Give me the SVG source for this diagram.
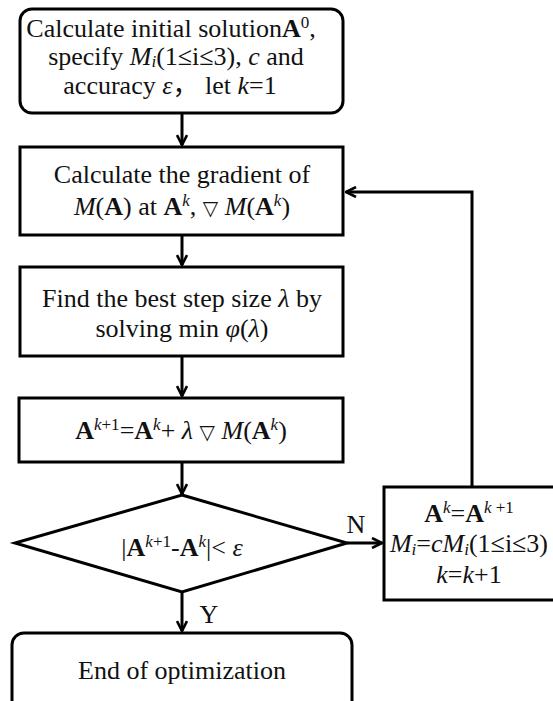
<svg xmlns="http://www.w3.org/2000/svg" width="553" height="701" viewBox="0 0 553 701">
<style>
.box{fill:#fff;stroke:#000;stroke-width:3}
.t{font-family:"Liberation Serif","Times New Roman","Noto Sans CJK SC",serif;font-size:26px;fill:#111;text-anchor:middle}
.b{font-weight:bold}
.i{font-style:italic}
.s{font-size:17px}
.sym{font-family:"DejaVu Sans",sans-serif;font-size:20px}
.con{fill:none;stroke:#000;stroke-width:3}
</style>
<defs>
<marker id="arr" viewBox="0 0 12 12" refX="11" refY="6" markerWidth="12" markerHeight="12" markerUnits="userSpaceOnUse" orient="auto">
<path d="M1,1 L11,6 L1,11" fill="none" stroke="#000" stroke-width="2.6"/>
</marker>
</defs>
<rect width="553" height="701" fill="#fff"/>
<g id="connectors">
<line class="con" x1="182" y1="113" x2="182" y2="145" marker-end="url(#arr)"/>
<line class="con" x1="182" y1="235" x2="182" y2="265" marker-end="url(#arr)"/>
<line class="con" x1="182" y1="356" x2="182" y2="396" marker-end="url(#arr)"/>
<line class="con" x1="182" y1="462" x2="182" y2="494" marker-end="url(#arr)"/>
<line class="con" x1="182" y1="592" x2="182" y2="631" marker-end="url(#arr)"/>
<line class="con" x1="347" y1="543" x2="382" y2="543" marker-end="url(#arr)"/>
<polyline class="con" points="472,487 472,192 346,192" marker-end="url(#arr)"/>
<text class="t" x="356" y="533">N</text>
<text class="t" x="209" y="623">Y</text>
</g>
<g id="start">
<rect class="box" x="20" y="9" width="323" height="104" rx="12"/>
<text class="t" x="171" y="37">Calculate initial solution<tspan class="b">A</tspan><tspan class="s" dy="-9">0</tspan><tspan dy="9">,</tspan></text>
<text class="t" x="176" y="65">specify <tspan class="i">M</tspan><tspan class="s i" dy="2">i</tspan><tspan dy="-2">(1≤i≤3), </tspan><tspan class="i">c</tspan> and</text>
<text class="t" x="170" y="94">accuracy <tspan class="i">ε</tspan>，  let <tspan class="i">k</tspan>=1</text>
</g>
<g id="gradient">
<rect class="box" x="20" y="147" width="323" height="88"/>
<text class="t" x="182" y="183">Calculate the gradient of</text>
<text class="t" x="182" y="215"><tspan class="i">M</tspan>(<tspan class="b">A</tspan>) at <tspan class="b">A</tspan><tspan class="s i" dy="-9">k</tspan><tspan dy="9">, </tspan><tspan class="sym">▽</tspan> <tspan class="i">M</tspan>(<tspan class="b">A</tspan><tspan class="s i" dy="-9">k</tspan><tspan dy="9">)</tspan></text>
</g>
<g id="step">
<rect class="box" x="20" y="267" width="323" height="89"/>
<text class="t" x="182" y="307">Find the best step size <tspan class="i">λ</tspan> by</text>
<text class="t" x="182" y="337">solving min <tspan class="i">φ</tspan>(<tspan class="i">λ</tspan>)</text>
</g>
<g id="update">
<rect class="box" x="19" y="398" width="324" height="64"/>
<text class="t" x="181" y="439"><tspan class="b">A</tspan><tspan class="s i" dy="-9">k</tspan><tspan class="s">+1</tspan><tspan dy="9">=</tspan><tspan class="b">A</tspan><tspan class="s i" dy="-9">k</tspan><tspan dy="9">+ </tspan><tspan class="i">λ</tspan> <tspan class="sym">▽</tspan> <tspan class="i">M</tspan>(<tspan class="b">A</tspan><tspan class="s i" dy="-9">k</tspan><tspan dy="9">)</tspan></text>
</g>
<g id="check">
<polygon class="box" points="182,495 347,543 182,592 15,543"/>
<text class="t" x="182" y="556">|<tspan class="b">A</tspan><tspan class="s i" dy="-9">k</tspan><tspan class="s">+1</tspan><tspan dy="9">-</tspan><tspan class="b">A</tspan><tspan class="s i" dy="-9">k</tspan><tspan dy="9">|&lt; </tspan><tspan class="i">ε</tspan></text>
</g>
<g id="reset">
<rect class="box" x="384" y="487" width="174" height="113"/>
<text class="t" x="469" y="522"><tspan class="b">A</tspan><tspan class="s i" dy="-9">k</tspan><tspan dy="9">=</tspan><tspan class="b">A</tspan><tspan class="s" dy="-9"><tspan class="i">k</tspan> +1</tspan></text>
<text class="t" x="469" y="552"><tspan class="i">M</tspan><tspan class="s i" dy="3">i</tspan><tspan dy="-3">=</tspan><tspan class="i">cM</tspan><tspan class="s i" dy="3">i</tspan><tspan dy="-3">(1≤i≤3)</tspan></text>
<text class="t" x="469" y="583"><tspan class="i">k</tspan>=<tspan class="i">k</tspan>+1</text>
</g>
<g id="end">
<rect class="box" x="12" y="633" width="340" height="80" rx="12"/>
<text class="t" x="182" y="679">End of optimization</text>
</g>
</svg>
